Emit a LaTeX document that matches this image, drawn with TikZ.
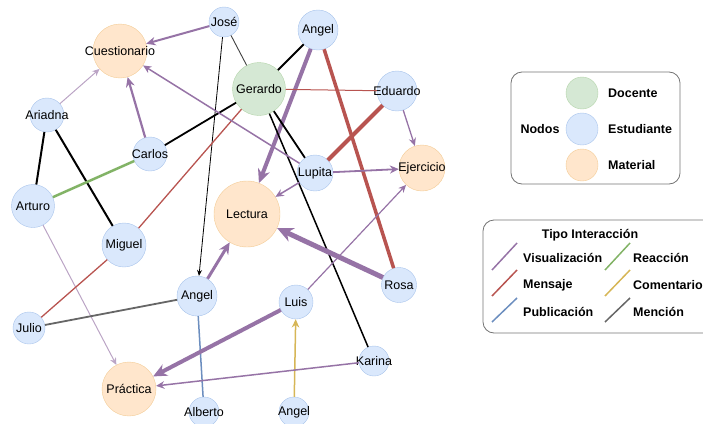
\documentclass[tikz,border=0pt]{standalone}
\usepackage{fontspec}
\setmainfont{Liberation Sans}
\usetikzlibrary{arrows.meta}
\definecolor{estf}{HTML}{DAE8FC}
\definecolor{estb}{HTML}{A9C4EB}
\definecolor{docf}{HTML}{D5E8D4}
\definecolor{docb}{HTML}{B4D4AA}
\definecolor{matf}{HTML}{FFE6CC}
\definecolor{matb}{HTML}{F3CC96}
\definecolor{visc}{HTML}{9673A6}
\definecolor{msjc}{HTML}{B85450}
\definecolor{pubc}{HTML}{6C8EBF}
\definecolor{reac}{HTML}{82B366}
\definecolor{comc}{HTML}{D6B656}
\definecolor{mcnc}{HTML}{666666}
\begin{document}
\begin{tikzpicture}[x=1pt, y=-1pt, font=\fontsize{12.5}{15}\selectfont,
    nodo/.style={circle, inner sep=0pt, minimum size=#1},
    est/.style={nodo=#1, draw=estb, fill=estf},
    doc/.style={nodo=#1, draw=docb, fill=docf},
    mat/.style={nodo=#1, draw=matb, fill=matf},
    punta/.style={-{Stealth[length=5pt 2.2, width=4.5pt 2]}},
    vis/.style={draw=visc, line width=#1, punta},
    visl/.style={draw=visc!65, line width=#1, punta},
    msj/.style={draw=msjc, line width=#1},
    pub/.style={draw=pubc, line width=#1},
    rea/.style={draw=reac, line width=#1},
    com/.style={draw=comc, line width=#1, punta},
    mcn/.style={draw=mcnc, line width=#1},
    neg/.style={draw=black, line width=#1},
    caja/.style={draw=black!55, rounded corners=11pt, line width=0.8pt},
    ley/.style={anchor=west, inner xsep=1pt, font=\fontsize{12.5}{15}\selectfont\bfseries}]
    \useasboundingbox (0,0) rectangle (703,423);
    \clip (0,0) rectangle (703,423);
    \node[est=30pt, label=center:José] (jose) at (224,22) {};
    \node[mat=54pt, label=center:Cuestionario] (cuest) at (120,51) {};
    \node[est=40pt, label=center:Angel] (angelA) at (318,30) {};
    \node[doc=53pt, label=center:Gerardo] (gerardo) at (259,89) {};
    \node[est=40pt, label=center:Eduardo] (eduardo) at (397,91) {};
    \node[est=34pt, label=center:Ariadna] (ariadna) at (47,115) {};
    \node[est=34pt, label=center:Carlos] (carlos) at (150,154) {};
    \node[est=36pt, label=center:Lupita] (lupita) at (315,173) {};
    \node[mat=46pt, label=center:Ejercicio] (ejerc) at (422,168) {};
    \node[est=43pt, label=center:Arturo] (arturo) at (33,206) {};
    \node[mat=66pt, label=center:Lectura] (lectura) at (247,214) {};
    \node[est=44pt, label=center:Miguel] (miguel) at (124,245) {};
    \node[est=40pt, label=center:Angel] (angelB) at (197,296) {};
    \node[est=35pt, label=center:Rosa] (rosa) at (399,285) {};
    \node[est=34pt, label=center:Luis] (luis) at (296,302) {};
    \node[est=32pt, label=center:Julio] (julio) at (29,328) {};
    \node[est=30pt, label=center:Karina] (karina) at (374,361) {};
    \node[mat=54pt, label=center:Práctica] (practica) at (129,389) {};
    \node[est=30pt, label=center:Alberto] (alberto) at (204,412) {};
    \node[est=30pt, label=center:Angel] (angelC) at (294,412) {};
    \draw[vis=2pt] (jose) -- (cuest);
    \draw[neg=0.9pt, draw=black!75] (jose) -- (gerardo);
    \draw[neg=0.8pt, -{Stealth[length=6pt, width=5pt]}] (jose) -- (angelB);
    \draw[neg=2pt] (angelA) -- (gerardo);
    \draw[vis=4pt] (angelA) -- (lectura);
    \draw[msj=3.5pt] (angelA) -- (rosa);
    \draw[msj=1pt] (gerardo) -- (eduardo);
    \draw[neg=1.8pt] (gerardo) -- (carlos);
    \draw[msj=1.3pt] (gerardo) -- (miguel);
    \draw[neg=1.8pt] (gerardo) -- (lupita);
    \draw[neg=1.5pt] (gerardo) -- (karina);
    \draw[vis=1.5pt] (lupita) -- (cuest);
    \draw[msj=4pt] (eduardo) -- (lupita);
    \draw[vis=1.3pt] (eduardo) -- (ejerc);
    \draw[vis=1.8pt] (lupita) -- (ejerc);
    \draw[vis=1.5pt] (lupita) -- (lectura);
    \draw[vis=2.2pt] (carlos) -- (cuest);
    \draw[visl=1pt] (ariadna) -- (cuest);
    \draw[neg=2pt] (ariadna) -- (arturo);
    \draw[neg=2pt] (ariadna) -- (miguel);
    \draw[rea=2.5pt] (arturo) -- (carlos);
    \draw[visl=1pt] (arturo) -- (practica);
    \draw[msj=1.3pt] (julio) -- (miguel);
    \draw[mcn=1.8pt] (julio) -- (angelB);
    \draw[vis=3pt] (angelB) -- (lectura);
    \draw[pub=1.5pt] (angelB) -- (alberto);
    \draw[vis=5pt] (rosa) -- (lectura);
    \draw[vis=1.2pt] (luis) -- (ejerc);
    \draw[vis=4pt] (luis) -- (practica);
    \draw[com=1.5pt] (angelC) -- (luis);
    \draw[vis=1.5pt] (karina) -- (practica);
    \draw[caja] (511,72) rectangle (680,184);
    \node[font=\fontsize{12.5}{15}\selectfont\bfseries] (nodos) at (540,129) {Nodos};
    \node[doc=32pt] (ldoc) at (582,93) {};
    \node[est=32pt] (lest) at (582,129) {};
    \node[mat=32pt] (lmat) at (582,165) {};
    \node[ley] (tdoc) at (607,93) {Docente};
    \node[ley] (test) at (607,129) {Estudiante};
    \node[ley] (tmat) at (607,165) {Material};
    \draw[caja] (483,220) rectangle (725,333);
    \node[font=\fontsize{12.5}{15}\selectfont\bfseries] (tipo) at (590,235) {Tipo Interacción};
    \draw[visc, line width=1.5pt] (492,270) -- (517,243);
    \draw[msjc, line width=1.5pt] (492,296) -- (517,270);
    \draw[pubc, line width=1.5pt] (492,322) -- (517,298);
    \draw[reac, line width=1.5pt] (605,270) -- (630,243);
    \draw[comc, line width=1.5pt] (605,296) -- (630,270);
    \draw[mcnc, line width=1.5pt] (605,322) -- (630,298);
    \node[ley] (tvis) at (522,258) {Visualización};
    \node[ley] (tmsj) at (522,285) {Mensaje};
    \node[ley] (tpub) at (522,312) {Publicación};
    \node[ley] (trea) at (632,258) {Reacción};
    \node[ley] (tcom) at (632,285) {Comentario};
    \node[ley] (tmcn) at (632,312) {Mención};
\end{tikzpicture}
\end{document}
